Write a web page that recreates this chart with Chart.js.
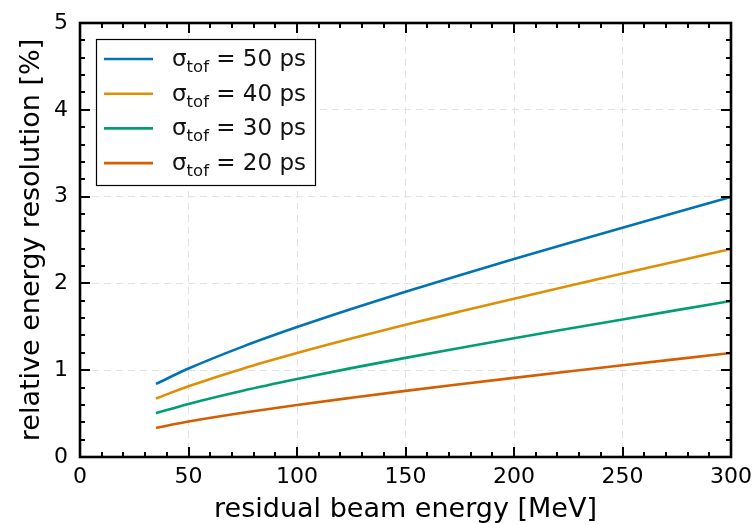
<!DOCTYPE html>
<html>
<head>
<meta charset="utf-8">
<script src="https://cdn.jsdelivr.net/npm/chart.js@4"></script>
<style>
  html, body { margin: 0; padding: 0; background: #fff; }
  #wrap { width: 754px; height: 524px; }
</style>
</head>
<body>
<div id="wrap"><canvas id="myChart" width="754" height="524"></canvas></div>
<script>
// beam energy samples [MeV]
const energies = [35, 50, 75, 100, 125, 150, 175, 200, 225, 250, 275, 300];

// relative energy resolution [%]
const res50 = [0.842, 1.019, 1.272, 1.497, 1.706, 1.904, 2.094, 2.280, 2.462, 2.642, 2.820, 2.996];
const res40 = [0.674, 0.815, 1.018, 1.198, 1.365, 1.523, 1.675, 1.824, 1.970, 2.114, 2.256, 2.397];
const res30 = [0.505, 0.611, 0.763, 0.898, 1.024, 1.142, 1.256, 1.368, 1.477, 1.585, 1.692, 1.798];
const res20 = [0.337, 0.408, 0.509, 0.599, 0.682, 0.762, 0.838, 0.912, 0.985, 1.057, 1.128, 1.198];

const seriesValues = [res50, res40, res30, res20];
const seriesLabels = ['50 ps', '40 ps', '30 ps', '20 ps'];
const seriesColors = ['#0173b2', '#de8f05', '#029e73', '#d55e00'];

const xTicks = [0, 50, 100, 150, 200, 250, 300];
const yTicks = [0, 1, 2, 3, 4, 5];

const FONT = 'DejaVu Sans';

const datasets = seriesValues.map((vals, i) => ({
    label: seriesLabels[i],
    data: vals.map((v, j) => ({ x: energies[j], y: v })),
    borderColor: seriesColors[i],
    backgroundColor: seriesColors[i],
    borderWidth: 2.6,
    pointRadius: 0,
    cubicInterpolationMode: 'monotone',
    fill: false,
}));

// frame + inward ticks (major and minor) like the matplotlib style
const framePlugin = {
    id: 'frame',
    afterDraw(chart) {
        const { ctx, chartArea: a, scales: { x, y } } = chart;
        ctx.save();
        ctx.strokeStyle = '#000';
        ctx.lineWidth = 2;
        ctx.beginPath();
        for (let v = 0; v <= 300; v += 10) {
            const px = Math.round(x.getPixelForValue(v));
            const len = v % 50 === 0 ? 10 : 5;
            ctx.moveTo(px, a.bottom); ctx.lineTo(px, a.bottom - len);
            ctx.moveTo(px, a.top); ctx.lineTo(px, a.top + len);
        }
        for (let k = 0; k <= 25; k++) {
            const v = k * 0.2;
            const py = Math.round(y.getPixelForValue(v));
            const len = k % 5 === 0 ? 10 : 5;
            ctx.moveTo(a.left, py); ctx.lineTo(a.left + len, py);
            ctx.moveTo(a.right, py); ctx.lineTo(a.right - len, py);
        }
        ctx.stroke();
        ctx.lineWidth = 2.6;
        ctx.strokeRect(a.left, a.top, a.right - a.left, a.bottom - a.top);

        // legend with subscript
        const lx = a.left + 16, ly = a.top + 16;
        const rowH = 34.7;
        ctx.fillStyle = '#fff';
        ctx.fillRect(lx, ly, 219, 146);
        ctx.lineWidth = 1.2;
        ctx.strokeStyle = '#000';
        ctx.strokeRect(lx + 0.5, ly + 0.5, 219, 146);
        chart.data.datasets.forEach((ds, i) => {
            const cy = ly + 20 + i * rowH;
            ctx.strokeStyle = ds.borderColor;
            ctx.lineWidth = 2.6;
            ctx.beginPath();
            ctx.moveTo(lx + 8, cy); ctx.lineTo(lx + 57, cy);
            ctx.stroke();
            ctx.fillStyle = '#111';
            ctx.textBaseline = 'alphabetic';
            ctx.font = '23px ' + FONT;
            let tx = lx + 76;
            const base = cy + 7;
            ctx.fillText('σ', tx, base);
            tx += ctx.measureText('σ').width;
            ctx.font = '16.5px ' + FONT;
            ctx.fillText('tof', tx, base + 6);
            tx += ctx.measureText('tof').width;
            ctx.font = '23px ' + FONT;
            ctx.fillText(' = ' + ds.label, tx, base);
        });
        ctx.restore();
    }
};

const ctx = document.getElementById('myChart').getContext('2d');

const myChart = new Chart(ctx, {
    type: 'line',
    data: { datasets: datasets },
    options: {
        responsive: false,
        animation: false,
        layout: { padding: { top: 23, right: 23, left: 0, bottom: 0 } },
        plugins: { legend: { display: false }, tooltip: { enabled: false } },
        scales: {
            x: {
                type: 'linear',
                min: 0, max: 300,
                afterBuildTicks: s => { s.ticks = xTicks.map(v => ({ value: v })); },
                afterFit: s => { s.height = 67; s.paddingLeft = 0; s.paddingRight = 0; },
                grid: {
                    color: c => (c.tick.value === 0 || c.tick.value === 300) ? 'rgba(0,0,0,0)' : '#e2e2e2',
                    lineWidth: 1,
                    drawTicks: false,
                },
                border: { display: false, dash: [7, 5] },
                ticks: { color: '#000', padding: 7, font: { family: FONT, size: 22 }, maxRotation: 0 },
                title: {
                    display: true,
                    text: 'residual beam energy [MeV]',
                    color: '#000',
                    font: { family: FONT, size: 27 },
                    padding: { top: 0, bottom: -2 },
                },
            },
            y: {
                type: 'linear',
                min: 0, max: 5,
                afterBuildTicks: s => { s.ticks = yTicks.map(v => ({ value: v })); },
                afterFit: s => { s.width = 80; s.paddingTop = 0; s.paddingBottom = 0; },
                grid: {
                    color: c => (c.tick.value === 0 || c.tick.value === 5) ? 'rgba(0,0,0,0)' : '#e2e2e2',
                    lineWidth: 1,
                    drawTicks: false,
                },
                border: { display: false, dash: [7, 5] },
                ticks: { color: '#000', padding: 12, font: { family: FONT, size: 22 } },
                title: {
                    display: true,
                    text: 'relative energy resolution [%]',
                    color: '#000',
                    font: { family: FONT, size: 27 },
                    padding: { top: 16, bottom: 0 },
                },
            },
        },
    },
    plugins: [framePlugin],
});
</script>
</body>
</html>
